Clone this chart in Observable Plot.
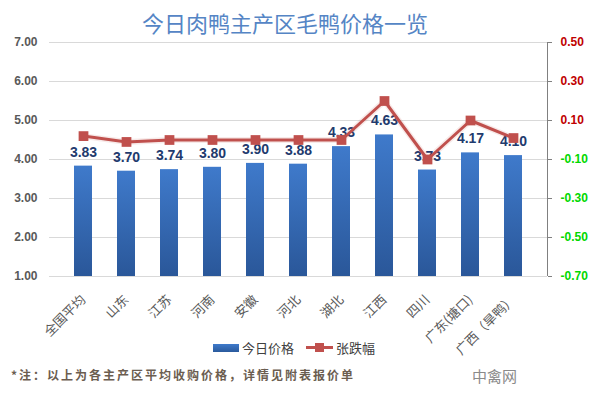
<!DOCTYPE html>
<html><head><meta charset="utf-8">
<script src="https://cdn.jsdelivr.net/npm/d3@7"></script>
<script src="https://cdn.jsdelivr.net/npm/@observablehq/plot@0.6"></script>
<style>
body{margin:0;background:#fff;font-family:"Noto Sans CJK SC","Noto Sans",sans-serif;}
#wrap{position:relative;width:589px;height:397px;overflow:hidden;background:#fff;}
#chart{position:absolute;left:0;top:0;}
#title{position:absolute;left:0;width:570px;top:6px;text-align:center;font-size:22px;color:#5585c5;}
#legend{position:absolute;top:338px;left:213px;font-size:13px;color:#404040;display:flex;align-items:center;}
#legend .sw{width:26px;height:8px;background:linear-gradient(#3f7acb,#2a5a9c);margin-right:3px;}
#legend .ln{position:relative;width:27px;height:3px;background:#c0504d;margin-left:12px;margin-right:3px;}
#legend .ln i{position:absolute;left:9px;top:-3px;width:9px;height:9px;background:#c0504d;}
#note{position:absolute;left:11px;top:366px;font-size:12px;font-weight:bold;color:#6b5d50;letter-spacing:2px;font-family:"Noto Sans CJK SC",serif;}
#mark{position:absolute;left:472px;top:365px;font-size:15px;color:#8a8a8a;}
</style></head><body>
<div id="wrap">
<div id="chart"></div>
<div id="title">今日肉鸭主产区毛鸭价格一览</div>
<div id="legend"><span class="sw"></span><span>今日价格</span><span class="ln"><i></i></span><span>张跌幅</span></div>
<div id="note">*注：以上为各主产区平均收购价格，详情见附表报价单</div>
<div id="mark">中禽网</div>
</div>
<script>
const regions = ["全国平均","山东","江苏","河南","安徽","河北","湖北","江西","四川","广东(塘口)","广西（旱鸭）"];
const prices = [3.83,3.70,3.74,3.80,3.90,3.88,4.33,4.63,3.73,4.17,4.10];
const changes = [0.02,-0.01,0.00,0.00,0.00,0.00,0.00,0.20,-0.10,0.10,0.01];
const leftTicks = [1,2,3,4,5,6,7];
const rightTicks = [0.5,0.3,0.1,-0.1,-0.3,-0.5,-0.7];

const rMin = -0.7, rMax = 0.5, lMin = 1, lMax = 7;
const toLeft = v => lMin + (v - rMin) * (lMax - lMin) / (rMax - rMin);

const data = regions.map((r, i) => ({region: r, price: prices[i], change: changes[i], cy: toLeft(changes[i])}));
const rdata = rightTicks.map(v => ({v, y: toLeft(v)}));

const ns = "http://www.w3.org/2000/svg";
const defs = () => {
  const d = document.createElementNS(ns, "defs");
  d.innerHTML = `<linearGradient id="barg" x1="0" y1="0" x2="0" y2="1">
    <stop offset="0" stop-color="#3f7acb"/><stop offset="1" stop-color="#2a5799"/></linearGradient>`;
  return d;
};
const rightLine = (index, scales, values, dims) => {
  const l = document.createElementNS(ns, "line");
  const x = dims.width - dims.marginRight + 0.5;
  l.setAttribute("x1", x); l.setAttribute("x2", x);
  l.setAttribute("y1", dims.marginTop); l.setAttribute("y2", dims.height - dims.marginBottom);
  l.setAttribute("stroke", "#808080");
  return l;
};

const chart = Plot.plot({
  width: 589, height: 397,
  marginLeft: 49, marginRight: 42, marginTop: 42, marginBottom: 121,
  style: {fontFamily: "'Noto Sans CJK SC', sans-serif", background: "transparent"},
  x: {domain: regions, padding: 0.58, label: null},
  y: {domain: [lMin, lMax], label: null},
  marks: [
    defs,
    Plot.gridY(leftTicks, {stroke: "#d9d9d9", strokeOpacity: 1}),
    Plot.axisY(leftTicks, {anchor: "left", tickSize: 0, tickPadding: 12, tickFormat: d => d.toFixed(2), fontSize: 12, fontWeight: "bold", fill: "#595959", fontFamily: "'Liberation Sans', Arial, sans-serif"}),
    Plot.axisY(rdata.map(d => d.y), {anchor: "right", tickSize: 4, stroke: "#808080", tickFormat: () => ""}),
    rightLine,
    Plot.text(rdata, {y: "y", frameAnchor: "right", dx: 13, textAnchor: "start", text: d => d.v.toFixed(2), fill: d => d.v > 0 ? "#c00000" : "#00d800", fontSize: 12, fontWeight: "bold", fontFamily: "'Liberation Sans', Arial, sans-serif"}),
    Plot.barY(data, {x: "region", y1: lMin, y2: "price", fill: "url(#barg)"}),
    Plot.axisX({tickRotate: -45, tickSize: 0, tickPadding: 21, fontSize: 13, fill: "#595959"}),
    Plot.text(data, {x: "region", y: "price", text: d => d.price.toFixed(2), dy: -14, fontSize: 14, fontWeight: "bold", fill: "#1f3b6e", fontFamily: "'Liberation Sans', Arial, sans-serif"}),
    Plot.lineY(data, {x: "region", y: "cy", stroke: "#c0504d", strokeWidth: 6, strokeOpacity: 0.12}),
    Plot.lineY(data, {x: "region", y: "cy", stroke: "#c0504d", strokeWidth: 3}),
    Plot.dot(data, {x: "region", y: "cy", symbol: "square", r: 5.5, fill: "#c0504d", stroke: "none"})
  ]
});
document.getElementById("chart").appendChild(chart);
</script>
</body></html>
